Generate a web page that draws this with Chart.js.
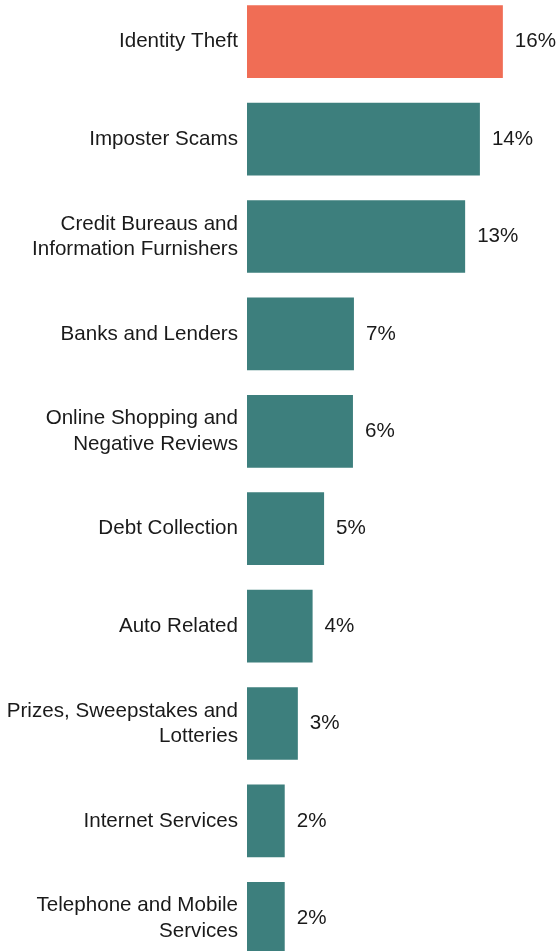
<!DOCTYPE html>
<html>
<head>
<meta charset="utf-8">
<script src="https://cdn.jsdelivr.net/npm/chart.js@4.4.0/dist/chart.umd.min.js"></script>
<style>
  html, body { margin: 0; padding: 0; background: #fff; overflow: hidden; }
  #complaintChart { position: absolute; left: 0; top: -7px; }
</style>
</head>
<body>
<canvas id="complaintChart" width="556" height="974"></canvas>
<script>
// Complaint categories (multi-line labels as arrays)
const categories = [
  "Identity Theft",
  "Imposter Scams",
  ["Credit Bureaus and", "Information Furnishers"],
  "Banks and Lenders",
  ["Online Shopping and", "Negative Reviews"],
  "Debt Collection",
  "Auto Related",
  ["Prizes, Sweepstakes and", "Lotteries"],
  "Internet Services",
  ["Telephone and Mobile", "Services"],
];

// Share of reports (%)
const shares = [15.6, 14.2, 13.3, 6.52, 6.46, 4.7, 4.0, 3.1, 2.3, 2.3];

const highlightColor = "#f06d55";
const baseColor = "#3d7f7d";
const textColor = "#1a1a1a";
const fontFamily = "'Liberation Sans', Arial, sans-serif";
const fontSize = 20.6;

// Draw the percent labels just past the end of each bar
const valueLabels = {
  id: "valueLabels",
  afterDatasetsDraw(chart) {
    const ctx = chart.ctx;
    const meta = chart.getDatasetMeta(0);
    ctx.save();
    ctx.font = fontSize + "px " + fontFamily;
    ctx.fillStyle = textColor;
    ctx.textAlign = "left";
    ctx.textBaseline = "middle";
    meta.data.forEach((bar, i) => {
      ctx.fillText(Math.round(shares[i]) + "%", bar.x + 12, bar.y);
    });
    ctx.restore();
  },
};

const ctx = document.getElementById("complaintChart").getContext("2d");
const chart = new Chart(ctx, {
  type: "bar",
  data: {
    labels: categories,
    datasets: [
      {
        data: shares,
        backgroundColor: shares.map((v, i) => (i === 0 ? highlightColor : baseColor)),
        borderWidth: 0,
        barPercentage: 0.746,
        categoryPercentage: 1,
      },
    ],
  },
  options: {
    indexAxis: "y",
    responsive: false,
    animation: false,
    devicePixelRatio: 1,
    layout: { padding: 0 },
    plugins: {
      legend: { display: false },
      tooltip: { enabled: false },
    },
    scales: {
      x: {
        display: false,
        min: 0,
        max: 18.84,
      },
      y: {
        grid: { display: false, drawTicks: false },
        border: { display: false },
        ticks: {
          padding: 9,
          color: textColor,
          font: { family: fontFamily, size: fontSize, lineHeight: 1.22 },
        },
        afterFit(scale) {
          scale.width = 247; // fixed label column
          scale.paddingTop = 0;
          scale.paddingBottom = 0;
        },
      },
    },
  },
  plugins: [valueLabels],
});
</script>
</body>
</html>
